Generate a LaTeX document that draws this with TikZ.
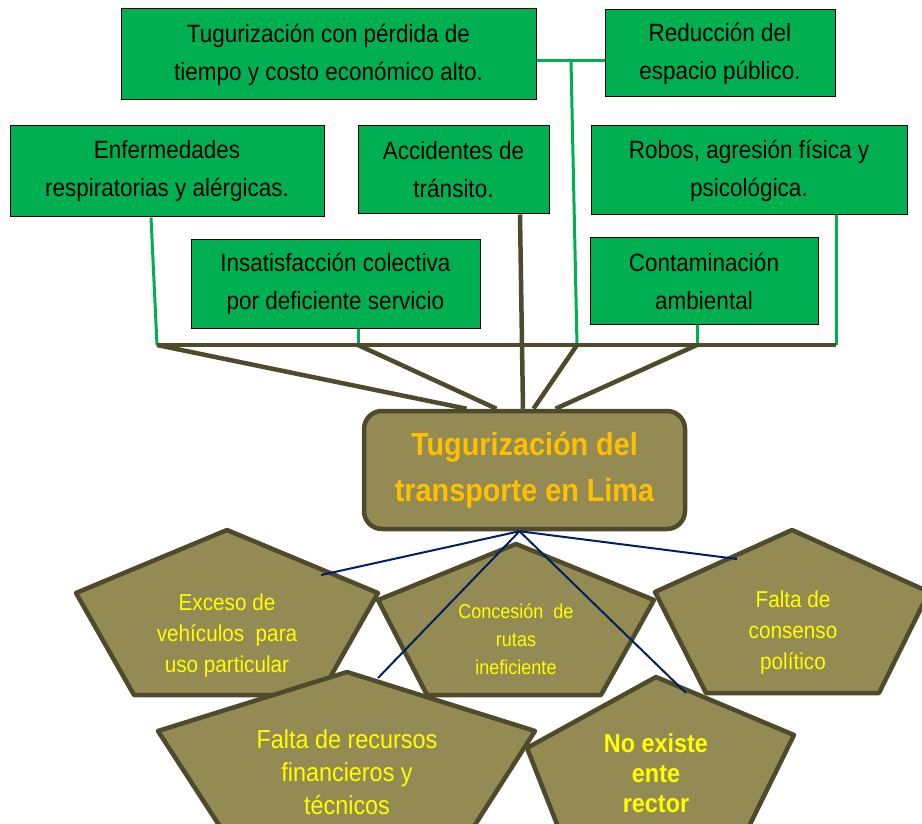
\documentclass[tikz,border=0pt]{standalone}
\usepackage{fontspec}
\setmainfont[FakeStretch=0.9]{Liberation Sans}
\definecolor{verdeC}{HTML}{00B050}
\definecolor{oliva}{HTML}{948A54}
\definecolor{marron}{HTML}{4E4A2C}
\definecolor{azul}{HTML}{002060}
\definecolor{oroT}{HTML}{FFC000}
\definecolor{amarillo}{HTML}{FFFF00}
\begin{document}
\begin{tikzpicture}[x=1pt,y=-1pt]
\tikzset{caja/.style={draw, line width=1pt, fill=verdeC, align=center, inner sep=0pt, font=\fontsize{25}{38}\selectfont}}
\tikzset{nucleo/.style={draw=marron, line width=4.5pt, fill=oliva, rounded corners=18pt, align=center, text=oroT, inner sep=0pt, font=\fontsize{32}{46}\selectfont\bfseries}}
\tikzset{penta/.style={draw=marron, line width=4.5pt, fill=oliva, line join=round}}
\tikzset{txt/.style={text=amarillo, align=center, inner sep=0pt}}
\tikzset{verde/.style={draw=verdeC, line width=3pt}}
\tikzset{tronco/.style={draw=marron, line width=4.5pt}}
\tikzset{azulL/.style={draw=azul, line width=2pt}}
\useasboundingbox (0,0) rectangle (922,824);
\clip (0,0) rectangle (922,824);
\node[caja, minimum width=415, minimum height=91] (T1) at (328.5,54.5) {Tugurización con pérdida de\\tiempo y costo económico alto.};
\node[caja, minimum width=230, minimum height=87] (T2) at (720,53.5) {Reducción del\\espacio público.};
\node[caja, minimum width=314, minimum height=91] (E1) at (167,171.5) {Enfermedades\\respiratorias y alérgicas.};
\node[caja, minimum width=191, minimum height=88] (E2) at (453.5,170) {Accidentes de\\tránsito.};
\node[caja, minimum width=316, minimum height=89] (E3) at (749,170.5) {Robos, agresión física y\\psicológica.};
\node[caja, minimum width=289, minimum height=88] (E4) at (335.5,284) {Insatisfacción colectiva\\por deficiente servicio};
\node[caja, minimum width=228, minimum height=86] (E5) at (704,281) {Contaminación\\ambiental};
\node[nucleo, minimum width=321, minimum height=118] (TC) at (524.5,470) {Tugurización del\\transporte en Lima};
\coordinate (j1) at (571,61);
\coordinate (b1) at (157,345);
\coordinate (b2) at (358,345);
\coordinate (b3) at (577,345);
\coordinate (b4) at (697,345);
\coordinate (b5) at (836,345);
\draw[verde] (T1.east |- j1) -- (T2.west |- j1);
\draw[verde] (j1) -- (b3);
\draw[verde] ([xshift=-16pt]E1.south) -- (b1);
\draw[verde] (b2 |- E4.south) -- (b2);
\draw[verde] (b4 |- E5.south) -- (b4);
\draw[verde] (b5 |- E3.south) -- (b5);
\draw[tronco] (b1) -- (b5);
\draw[tronco] (b1) -- ([xshift=-58pt]TC.north);
\draw[tronco] (b2) -- ([xshift=-28pt]TC.north);
\draw[tronco] (b3) -- ([xshift=9pt]TC.north);
\draw[tronco] (b4) -- ([xshift=31pt]TC.north);
\draw[tronco] ([xshift=66.5pt]E2.south) -- ([xshift=-1.5pt]TC.north);
\draw[penta] (227,530) -- (378,593) -- (320,695) -- (134,695) -- (76,593) -- cycle;
\draw[penta] (516,544) -- (654,600) -- (601,695) -- (427,695) -- (378,600) -- cycle;
\draw[penta] (792,530) -- (929,592) -- (879,693) -- (706,693) -- (655,592) -- cycle;
\draw[penta] (347,672) -- (535,731) -- (464,842) -- (230,842) -- (158,731) -- cycle;
\draw[penta] (656,677) -- (794,735) -- (725,875) -- (577,875) -- (527,748) -- cycle;
\node[txt, font=\fontsize{23}{31}\selectfont] (P1) at (227,636) {Exceso de\\vehículos\ \ para\\uso particular};
\node[txt, font=\fontsize{20}{28}\selectfont] (P2) at (516,639) {Concesión\ \ de\\rutas\\ineficiente};
\node[txt, font=\fontsize{23}{31}\selectfont] (P3) at (793,633) {Falta de\\consenso\\político};
\node[txt, font=\fontsize{26}{33}\selectfont] (P4) at (347,772) {Falta de recursos\\financieros y\\técnicos};
\node[txt, font=\fontsize{26}{30}\selectfont\bfseries] (P5) at (656,773) {No existe\\ente\\rector};
\coordinate (o) at ([xshift=-5pt]TC.south);
\coordinate (q1) at (321,575);
\coordinate (q2) at (737,559);
\coordinate (q3) at (378,678);
\coordinate (q4) at (686,693);
\draw[azulL] (o) -- (q1);
\draw[azulL] (o) -- (q2);
\draw[azulL] (o) -- (q3);
\draw[azulL] (o) -- (q4);
\end{tikzpicture}
\end{document}
